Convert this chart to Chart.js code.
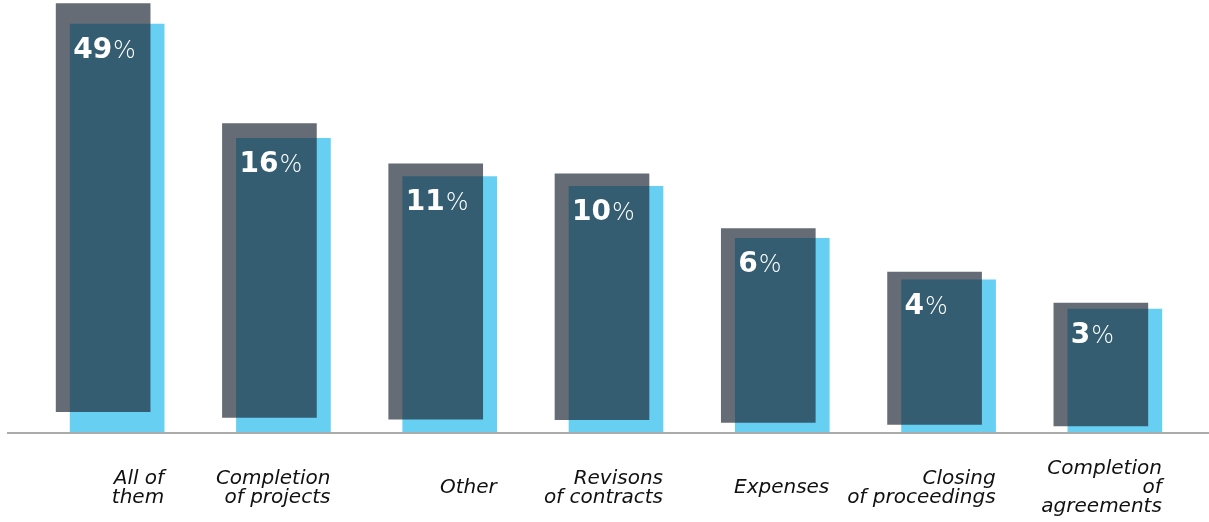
<!DOCTYPE html>
<html>
<head>
<meta charset="utf-8">
<script src="https://cdn.jsdelivr.net/npm/chart.js@4/dist/chart.umd.min.js"></script>
<style>
  html, body { margin: 0; padding: 0; background: #fff; }
  #wrap { width: 1209px; height: 522px; }
</style>
</head>
<body>
<div id="wrap"><canvas id="grafico"></canvas></div>
<script>
// categorias (cada uma quebrada em linhas) e valores em %
const categorias = [
  ['All of', 'them'],
  ['Completion', 'of projects'],
  ['Other'],
  ['Revisons', 'of contracts'],
  ['Expenses'],
  ['Closing', 'of proceedings'],
  ['Completion', 'of', 'agreements']
];
const valores = [49, 16, 11, 10, 6, 4, 3];

const AZUL = '#67d0f2';
const CINZA = 'rgba(28, 38, 52, 0.68)';
const FONTE = '"DejaVu Sans", sans-serif';

// sombra cinza: desloca cada barra para a esquerda e para cima
const sombra = {
  id: 'sombra',
  beforeDatasetDraw(chart, args) {
    if (args.index !== 1) return;
    const ctx = chart.ctx;
    args.meta.data.forEach(el => {
      const h = el.base - el.y;
      ctx.save();
      ctx.translate(-14, -0.05 * h);
      el.draw(ctx);
      ctx.restore();
    });
    return false;
  }
};

// linha da base, rótulos de valor e nomes das categorias
const textos = {
  id: 'textos',
  afterDraw(chart) {
    const ctx = chart.ctx;
    const area = chart.chartArea;
    const barras = chart.getDatasetMeta(0).data;

    ctx.save();
    ctx.strokeStyle = '#ababab';
    ctx.lineWidth = 2;
    ctx.beginPath();
    ctx.moveTo(7, area.bottom + 1);
    ctx.lineTo(chart.width, area.bottom + 1);
    ctx.stroke();

    barras.forEach((el, i) => {
      const esq = el.x - el.width / 2;
      const dir = el.x + el.width / 2;

      // valor: número em negrito + "%" mais leve
      ctx.fillStyle = '#fff';
      ctx.textBaseline = 'alphabetic';
      ctx.textAlign = 'left';
      ctx.font = 'bold 28px ' + FONTE;
      const num = String(valores[i]);
      const x0 = esq + 3;
      const y0 = el.y + 34;
      ctx.fillText(num, x0, y0);
      const w = ctx.measureText(num).width;
      ctx.font = '300 24px ' + FONTE;
      ctx.fillText('%', x0 + w + 1, y0);

      // nome da categoria, alinhado à direita da barra
      const linhas = categorias[i];
      const lh = 19;
      const topo = 488 - (linhas.length - 1) * lh / 2;
      ctx.fillStyle = '#111';
      ctx.textAlign = 'right';
      ctx.textBaseline = 'middle';
      ctx.font = 'italic 20px ' + FONTE;
      linhas.forEach((t, k) => ctx.fillText(t, dir, topo + k * lh));
    });
    ctx.restore();
  }
};

new Chart(document.getElementById('grafico'), {
  type: 'bar',
  data: {
    labels: categorias.map(c => c.join(' ')),
    datasets: [
      { data: valores, backgroundColor: AZUL, barThickness: 94, grouped: false, order: 2 },
      { data: valores, backgroundColor: CINZA, barThickness: 94, grouped: false, order: 1 }
    ]
  },
  options: {
    responsive: true,
    maintainAspectRatio: false,
    animation: false,
    layout: { padding: { left: 34, right: 11, top: 0, bottom: 90 } },
    plugins: { legend: { display: false }, tooltip: { enabled: false } },
    scales: {
      x: { display: false },
      y: { type: 'logarithmic', display: false, min: 0.9, max: 62 }
    }
  },
  plugins: [sombra, textos]
});
</script>
</body>
</html>
